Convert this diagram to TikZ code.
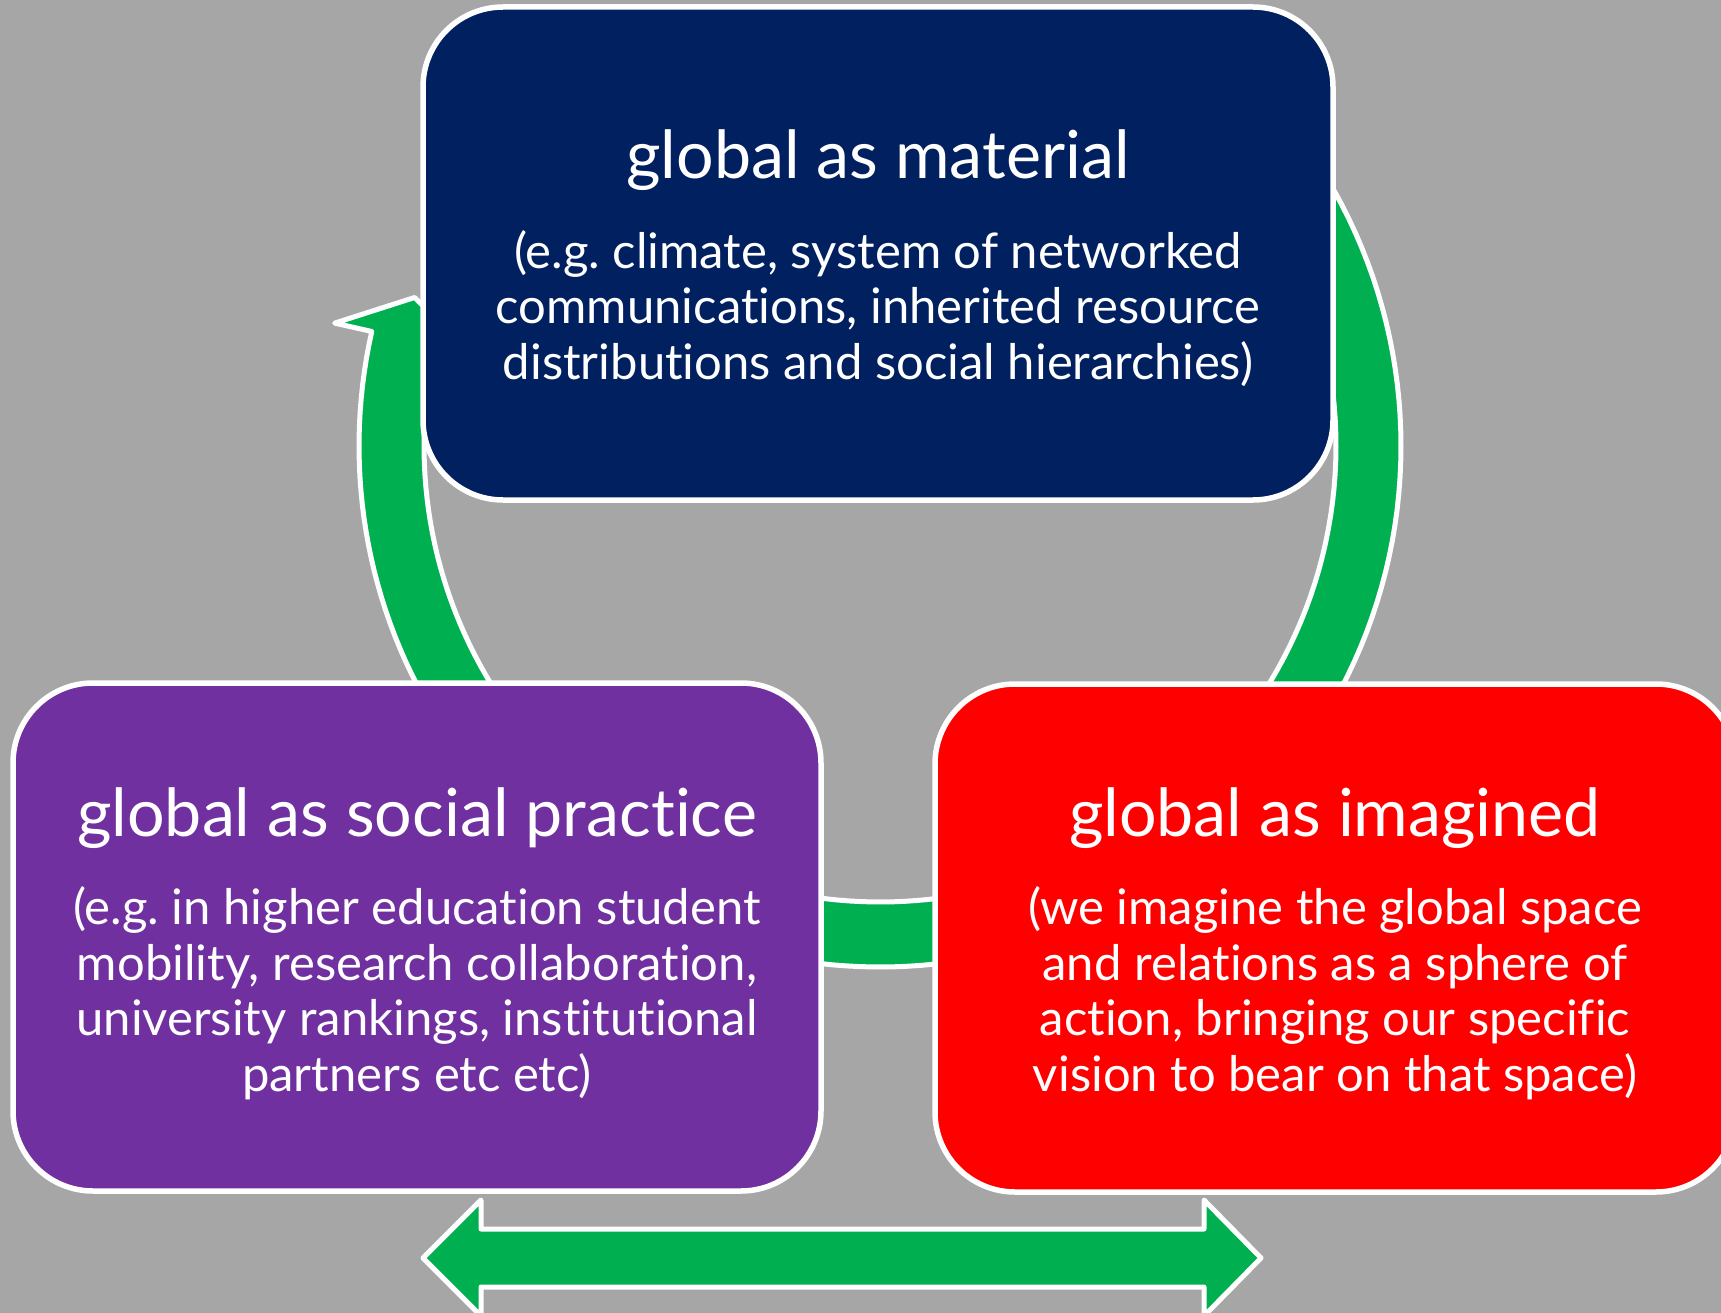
\documentclass[tikz,border=0pt]{standalone}
\usepackage{fontspec}
\setmainfont{Lato}[Ligatures=NoCommon]
\usetikzlibrary{positioning}

\definecolor{slidegrey}{HTML}{A6A6A6}
\definecolor{navy}{HTML}{002060}
\definecolor{plum}{HTML}{7030A0}
\definecolor{signalred}{HTML}{FF0000}
\definecolor{leaf}{HTML}{00B050}

\begin{document}
\begin{tikzpicture}[x=1pt, y=-1pt,
	box/.style={draw=white, line width=5.5pt, rounded corners=80pt, inner sep=0pt},
	band/.style={fill=leaf, draw=white, line width=5pt, line join=round},
	heading/.style={text=white, font=\fontsize{66.3}{78}\selectfont, anchor=base, inner sep=0pt},
	blurb/.style={text=white, font=\fontsize{49}{55.5}\selectfont, align=center, anchor=base, inner sep=0pt}]

				\fill[slidegrey] (0,0) rectangle (1721,1313);
				\useasboundingbox (0,0) rectangle (1721,1313);

				\coordinate (hub) at (880,446);

				\begin{scope}[shift={(hub)}]
					\filldraw[band] plot[domain=135:192.7, samples=40] (\x:521) -- (192.7:559) -- (197.7:488.5) -- (192.7:418) -- plot[domain=192.7:135, samples=40] (\x:456) -- cycle;
					\filldraw[band] plot[domain=315:400, samples=50] (\x:521) -- (400:559) -- (405:488.5) -- (400:418) -- plot[domain=400:315, samples=50] (\x:456) -- cycle;
					\filldraw[band] plot[domain=60:115, samples=40] (\x:521) -- (115:559) -- (120:488.5) -- (115:418) -- plot[domain=115:60, samples=40] (\x:456) -- cycle;
				\end{scope}

				\node[box, fill=navy, minimum width=910pt, minimum height=493pt] (material) at (878,253.5) {};
				\node[box, fill=plum, minimum width=808pt, minimum height=508pt] (practice) at (417,937) {};
				\node[box, fill=signalred, minimum width=801pt, minimum height=508pt] (imagined) at (1335.5,938) {};

				\node[heading] (materialtitle) at (878,179) {global as material};
				\node[blurb] (materialtext) at (878,379) {(e.g.\ climate, system of networked\\communications, inherited resource\\distributions and social hierarchies)};

				\node[heading] (practicetitle) at (417,836) {global as social practice};
				\node[blurb] (practicetext) at (417,1091) {(e.g.\ in higher education student\\mobility, research collaboration,\\university rankings, institutional\\partners etc etc)};

				\node[heading] (imaginedtitle) at (1335,836) {global as imagined};
				\node[blurb] (imaginedtext) at (1335,1091) {(we imagine the global space\\and relations as a sphere of\\action, bringing our specific\\vision to bear on that space)};

				\filldraw[band] (423,1258) -- (481,1200) -- (481,1229) -- (1204,1229) -- (1204,1200) -- (1261,1258) -- (1204,1316) -- (1204,1287) -- (481,1287) -- (481,1316) -- cycle;

\end{tikzpicture}
\end{document}
